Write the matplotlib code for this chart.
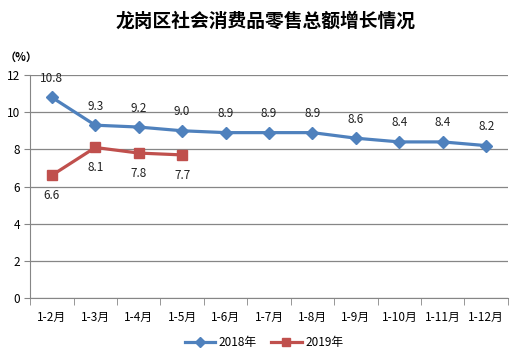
import matplotlib
matplotlib.use('Agg')
import matplotlib.pyplot as plt

plt.rcParams['font.family'] = ['Noto Sans CJK SC', 'DejaVu Sans']

BLEU = '#4F81BD'
ROUGE = '#C0504D'
GRIS = '#868686'

mois = ['1-2月', '1-3月', '1-4月', '1-5月', '1-6月', '1-7月', '1-8月',
        '1-9月', '1-10月', '1-11月', '1-12月']
val_2018 = [10.8, 9.3, 9.2, 9.0, 8.9, 8.9, 8.9, 8.6, 8.4, 8.4, 8.2]
val_2019 = [6.6, 8.1, 7.8, 7.7]

fig = plt.figure(figsize=(5.28, 3.59), dpi=100)
ax = fig.add_axes([0.057, 0.170, 0.905, 0.621])

x18 = list(range(len(val_2018)))
x19 = list(range(len(val_2019)))

ax.plot(x18, val_2018, color=BLEU, lw=2.3, marker='D', ms=6, label='2018年', zorder=3)
ax.plot(x19, val_2019, color=ROUGE, lw=2.3, marker='s', ms=7, label='2019年', zorder=3)

# etiquettes
for x, v in zip(x18, val_2018):
    ax.annotate(f'{v:.1f}', (x, v), xytext=(0, 9), textcoords='offset points',
                ha='center', va='bottom', fontsize=8.5, color='#222222')
for x, v in zip(x19, val_2019):
    ax.annotate(f'{v:.1f}', (x, v), xytext=(0, -10), textcoords='offset points',
                ha='center', va='top', fontsize=8.5, color='#222222')

ax.set_xlim(-0.5, len(mois) - 0.5)
ax.set_ylim(0, 12)
ax.set_yticks(range(0, 13, 2))
ax.yaxis.grid(True, color=GRIS, lw=0.9)
ax.set_axisbelow(True)

ax.set_xticks(x18)
ax.set_xticklabels(mois, fontsize=8.5)
ax.set_xticks([i - 0.5 for i in range(len(mois) + 1)], minor=True)
ax.tick_params(axis='x', which='major', length=0, pad=9)
ax.tick_params(axis='x', which='minor', length=5, color=GRIS)
ax.tick_params(axis='y', length=4, color=GRIS, labelsize=8.5, pad=3)

for s in ['top', 'right']:
    ax.spines[s].set_visible(False)
for s in ['left', 'bottom']:
    ax.spines[s].set_color(GRIS)

fig.text(0.502, 0.94, '龙岗区社会消费品零售总额增长情况', ha='center', va='center',
         fontsize=13.5, fontweight='bold')
fig.text(0.008, 0.84, '（%）', ha='left', va='center', fontsize=8, fontweight='bold')

fig.legend(loc='center', bbox_to_anchor=(0.5, 0.045), ncol=2, frameon=False,
           fontsize=8.5, handlelength=2.6, columnspacing=1.2, handletextpad=0.3,
           markerscale=0.9)

fig.savefig('out.png', dpi=100, facecolor='white')
